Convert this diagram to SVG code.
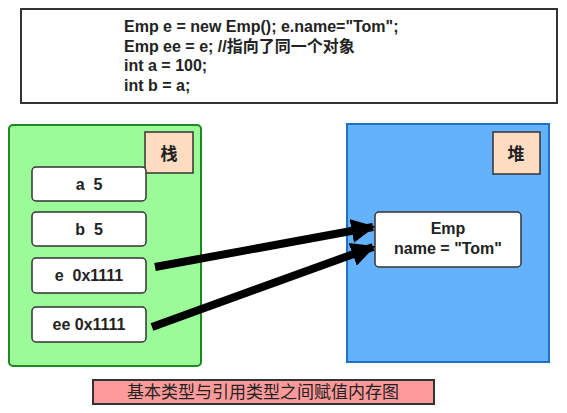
<svg xmlns="http://www.w3.org/2000/svg" width="567" height="413" viewBox="0 0 567 413">
<style>
text{font-family:"Liberation Sans","Noto Sans CJK SC",Arial,sans-serif;font-weight:bold;fill:#222;white-space:pre}
.cell{fill:#fff;stroke:#333;stroke-width:1.5}
.tag{fill:#fddcc0;stroke:#333;stroke-width:1.5}
.c{text-anchor:middle}
</style>
<defs>
<marker id="ah" viewBox="0 0 10 10" refX="9" refY="5" markerWidth="3" markerHeight="3" orient="auto" markerUnits="strokeWidth">
<path d="M0,0 L10,5 L0,10 z" fill="#000"/>
</marker>
</defs>
<rect width="567" height="413" fill="#fff"/>
<g id="code">
<rect x="21" y="9" width="536" height="94" fill="#fff" stroke="#333" stroke-width="2"/>
<text x="124" y="32" font-size="16">Emp e = new Emp(); e.name="Tom";</text>
<text x="124" y="52" font-size="16">Emp ee = e; //指向了同一个对象</text>
<text x="124" y="71" font-size="16">int a = 100;</text>
<text x="124" y="91" font-size="16">int b = a;</text>
</g>
<g id="stack">
<rect x="9" y="125" width="192" height="241" rx="4" fill="#9afb98" stroke="#1f8a1f" stroke-width="2"/>
<rect class="tag" x="145" y="132" width="48" height="41"/>
<text class="c" x="169" y="160" font-size="17">栈</text>
</g>
<g id="heap">
<rect x="347" y="124" width="202" height="238" fill="#64b1fc" stroke="#1d72c8" stroke-width="2"/>
<rect class="tag" x="493" y="132" width="47" height="42"/>
<text class="c" x="516" y="160" font-size="17">堆</text>
</g>
<g id="var-a"><rect class="cell" x="32" y="167" width="114" height="34" rx="4"/><text class="c" x="89" y="190" font-size="16">a  5</text></g>
<g id="var-b"><rect class="cell" x="32" y="212" width="114" height="34" rx="4"/><text class="c" x="89" y="235" font-size="16">b  5</text></g>
<g id="var-e"><rect class="cell" x="32" y="258" width="114" height="35" rx="4"/><text class="c" x="89" y="281" font-size="16">e  0x1111</text></g>
<g id="var-ee"><rect class="cell" x="32" y="307" width="114" height="35" rx="4"/><text class="c" x="89" y="330" font-size="16">ee 0x1111</text></g>
<g id="emp"><rect class="cell" x="375" y="212" width="146" height="55" rx="4"/>
<text class="c" x="448" y="234" font-size="16">Emp</text>
<text class="c" x="448" y="254" font-size="16">name = "Tom"</text></g>
<g id="connectors" stroke="#000" stroke-width="8" fill="none">
<line x1="155" y1="267" x2="373" y2="227" marker-end="url(#ah)"/>
<line x1="152" y1="327" x2="373" y2="247" marker-end="url(#ah)"/>
</g>
<g id="caption">
<rect x="93" y="380" width="341" height="24" fill="#ff9a9a" stroke="#333" stroke-width="2"/>
<text class="c" x="263" y="398" font-size="17" style="font-weight:normal">基本类型与引用类型之间赋值内存图</text>
</g>
</svg>
